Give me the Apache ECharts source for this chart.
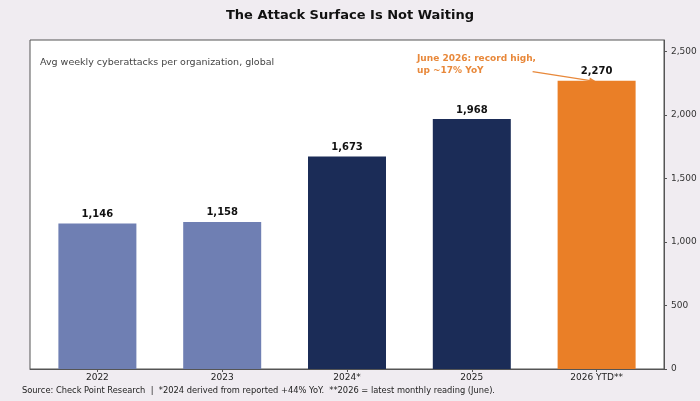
<!DOCTYPE html>
<html>
<head>
<meta charset="utf-8">
<script src="https://cdn.jsdelivr.net/npm/echarts@6/dist/echarts.min.js"></script>
<style>
  html, body { margin: 0; padding: 0; background: #f0ecf1; }
  #chart { width: 700px; height: 401px; }
</style>
</head>
<body>
<div id="chart"></div>
<script>
// data
const years = ['2022', '2023', '2024*', '2025', '2026 YTD**']
const attacks = [1146, 1158, 1673, 1968, 2270]
const barColors = ['#6f7fb3', '#6f7fb3', '#1b2c57', '#1b2c57', '#ea7f27']
const yTicks = [0, 500, 1000, 1500, 2000, 2500]
const xPos = [0, 1, 2, 3, 4]

const font = 'DejaVu Sans'
const orange = '#e8883a'
const chart = echarts.init(document.getElementById('chart'))

const subtitle = {
  type: 'text', left: 40, top: 58,
  style: { text: 'Avg weekly cyberattacks per organization, global', fontSize: 9.5, fill: '#444', fontFamily: font }
}
const footnote = {
  type: 'text', left: 22, top: 387,
  style: {
    text: 'Source: Check Point Research  |  *2024 derived from reported +44% YoY.  **2026 = latest monthly reading (June).',
    fontSize: 8.3, fill: '#222', fontFamily: font
  }
}

chart.setOption({
  backgroundColor: '#f0ecf1',
  animation: false,
  textStyle: { fontFamily: font },
  title: {
    text: 'The Attack Surface Is Not Waiting',
    left: 'center',
    top: 4,
    textStyle: { fontFamily: font, fontSize: 13, fontWeight: 'bold', color: '#111' }
  },
  grid: {
    left: 30, right: 36, top: 40, bottom: 32,
    show: true, backgroundColor: '#fff', borderColor: '#555', borderWidth: 1
  },
  xAxis: {
    type: 'value',
    min: -0.54,
    max: 4.54,
    splitLine: { show: false },
    axisLine: { show: true, onZero: false, lineStyle: { color: '#555' } },
    axisTick: { show: true, customValues: xPos, length: 3, lineStyle: { color: '#555' } },
    axisLabel: {
      customValues: xPos,
      fontSize: 9, color: '#222', margin: 4,
      formatter: v => years[Math.round(v)]
    }
  },
  yAxis: {
    type: 'value',
    position: 'right',
    min: 0,
    max: 2590,
    splitLine: { show: false },
    axisLine: { show: true, onZero: false, lineStyle: { color: '#555' } },
    axisTick: { show: true, customValues: yTicks, length: 3, lineStyle: { color: '#555' } },
    axisLabel: {
      customValues: yTicks,
      fontSize: 9, color: '#333', margin: 7,
      formatter: v => v.toLocaleString('en-US')
    }
  },
  series: [{
    type: 'bar',
    barWidth: 78,
    data: attacks.map((v, i) => ({ value: [xPos[i], v], itemStyle: { color: barColors[i] } })),
    label: {
      show: true,
      position: 'top',
      distance: 4,
      fontSize: 10,
      fontWeight: 'bold',
      color: '#111',
      formatter: p => p.value[1].toLocaleString('en-US')
    }
  }],
  graphic: [subtitle, footnote]
})

// annotation arrow pointing at the 2026 bar top
const tip = chart.convertToPixel({ seriesIndex: 0 }, [xPos[4], attacks[4]])
const end = [tip[0], tip[1] + 1]
const start = [tip[0] - 64, tip[1] - 9]
const ang = Math.atan2(end[1] - start[1], end[0] - start[0])
const head = (a, l) => [end[0] - l * Math.cos(ang + a), end[1] - l * Math.sin(ang + a)]
chart.setOption({
  graphic: [
    subtitle,
    footnote,
    {
      type: 'text', x: 417, y: 53,
      style: {
        text: 'June 2026: record high,\nup ~17% YoY',
        fontSize: 9, fontWeight: 'bold', fill: orange, fontFamily: font, lineHeight: 12
      }
    },
    {
      type: 'line',
      shape: { x1: start[0], y1: start[1], x2: end[0] - 3, y2: end[1] - 0.5 },
      style: { stroke: orange, lineWidth: 1.2 }
    },
    {
      type: 'polygon',
      shape: { points: [end, head(0.4, 8), head(-0.4, 8)] },
      style: { fill: orange }
    }
  ]
})
</script>
</body>
</html>
